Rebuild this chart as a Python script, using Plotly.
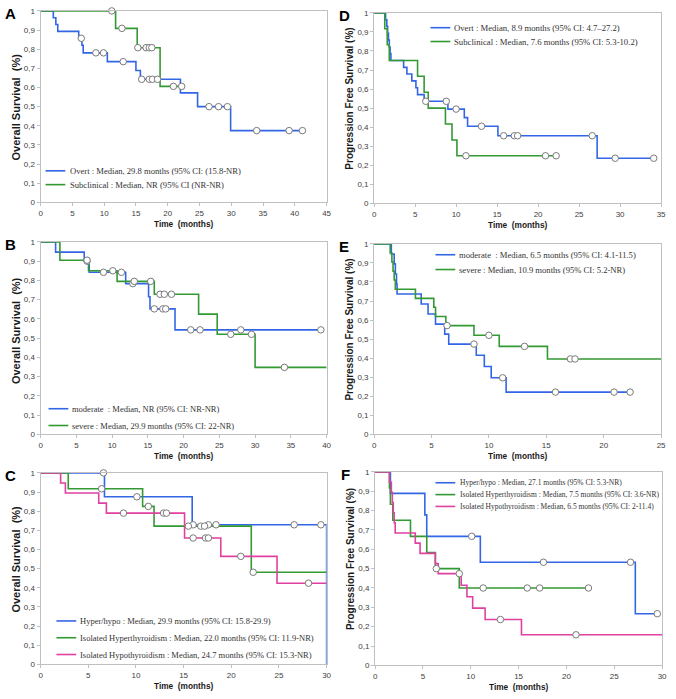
import plotly.graph_objects as go

W, H = 676, 699

BLUE = "#3366e6"
GREEN = "#339933"
MAGENTA = "#e040a0"

# ---------------- data ----------------
# Panel A - Overall survival, Overt vs Subclinical
A_overt_t = [2.0, 2.4, 2.7, 6.0, 6.5, 6.7, 10.5, 15.0, 15.7, 22.0, 24.7, 29.9]
A_overt_s = [0.964, 0.929, 0.893, 0.857, 0.821, 0.781, 0.735, 0.689, 0.643, 0.572, 0.500, 0.375]
A_overt_c = [6.4, 8.7, 9.9, 13.0, 15.9, 17.1, 17.6, 18.4, 26.5, 28.0, 29.4, 34.0, 39.1, 41.2]
A_overt_end = 41.2
A_sub_t = [11.8, 15.2, 18.8]
A_sub_s = [0.909, 0.808, 0.606]
A_sub_c = [11.2, 12.8, 15.3, 16.6, 17.1, 17.5, 20.9, 22.2]
A_sub_end = 22.2

# Panel D - PFS, Overt vs Subclinical
D_overt_t = [1.4, 1.55, 1.65, 1.75, 1.85, 1.95, 2.05, 3.6, 4.0, 4.6, 5.1, 5.3, 6.1, 9.0, 11.0, 11.4, 15.1, 27.2]
D_overt_s = [0.964, 0.929, 0.893, 0.857, 0.821, 0.786, 0.750, 0.714, 0.679, 0.643, 0.607, 0.571, 0.536, 0.495, 0.450, 0.405, 0.355, 0.237]
D_overt_c = [6.3, 8.8, 10.0, 13.1, 15.8, 17.1, 17.5, 26.6, 29.4, 34.1]
D_overt_end = 34.1
D_sub_t = [1.3, 1.6, 1.85, 5.3, 6.1, 6.6, 8.7, 9.5, 10.1]
D_sub_s = [0.917, 0.833, 0.750, 0.667, 0.583, 0.500, 0.417, 0.333, 0.250]
D_sub_c = [11.2, 20.9, 22.2]
D_sub_end = 22.2

# Panel B - Overall survival, moderate vs severe
B_mod_t = [2.1, 6.1, 6.8, 11.9, 15.1, 15.3, 18.8]
B_mod_s = [0.947, 0.900, 0.842, 0.783, 0.715, 0.652, 0.543]
B_mod_c = [6.5, 8.8, 11.3, 12.9, 15.9, 17.1, 17.5, 21.0, 22.3, 28.0, 39.2]
B_mod_end = 39.2
B_sev_t = [2.7, 6.7, 10.7, 15.9, 22.1, 24.7, 30.0]
B_sev_s = [0.905, 0.850, 0.795, 0.728, 0.625, 0.520, 0.348]
B_sev_c = [6.5, 10.1, 13.1, 15.4, 16.7, 17.3, 18.3, 26.6, 29.5, 34.1]
B_sev_end = 40.0

# Panel E - PFS, moderate vs severe
E_mod_t = [1.5, 1.75, 1.85, 1.95, 2.0, 4.1, 4.7, 5.35, 6.15, 6.5, 8.9, 9.6, 10.2, 11.5]
E_mod_s = [0.947, 0.895, 0.842, 0.789, 0.737, 0.684, 0.632, 0.579, 0.526, 0.474, 0.415, 0.356, 0.297, 0.222]
E_mod_c = [8.7, 11.2, 15.8, 20.9, 22.3]
E_mod_end = 22.3
E_sev_t = [1.4, 1.55, 1.65, 1.75, 1.85, 3.6, 5.2, 5.35, 6.25, 8.7, 10.9, 15.1]
E_sev_s = [0.952, 0.905, 0.857, 0.810, 0.762, 0.714, 0.667, 0.619, 0.571, 0.520, 0.462, 0.396]
E_sev_c = [6.35, 10.0, 13.1, 17.1, 17.5]
E_sev_end = 25.0

# Panel C - Overall survival by thyroid dysfunction type
C_hh_t = [6.7, 15.9, 30.0]
C_hh_s = [0.875, 0.729, 0.0]
C_hh_c = [6.6, 10.1, 16.0, 17.6, 18.4, 26.6, 29.4]
C_hh_end = 30.0
C_hyper_t = [2.9, 10.7, 11.9, 22.1]
C_hyper_s = [0.917, 0.825, 0.722, 0.481]
C_hyper_c = [6.4, 11.3, 15.5, 16.8, 17.2, 22.3]
C_hyper_end = 30.0
C_hypo_t = [2.1, 2.6, 6.1, 6.9, 15.1, 18.9, 24.8]
C_hypo_s = [0.947, 0.895, 0.842, 0.790, 0.660, 0.564, 0.424]
C_hypo_c = [8.7, 12.9, 13.2, 16.0, 17.3, 17.6, 21.0, 28.1]
C_hypo_end = 30.0

# Panel F - PFS by thyroid dysfunction type
F_hh_t = [1.6, 5.2, 5.4, 11.0, 27.2]
F_hh_s = [0.889, 0.778, 0.667, 0.533, 0.267]
F_hh_c = [10.1, 17.6, 26.7, 29.5]
F_hh_end = 29.5
F_hyper_t = [1.5, 1.6, 1.85, 3.7, 5.4, 6.3, 8.8]
F_hyper_s = [0.917, 0.833, 0.750, 0.667, 0.583, 0.500, 0.400]
F_hyper_c = [6.4, 11.3, 15.9, 17.2, 22.3]
F_hyper_end = 22.3
F_hypo_t = [1.5, 1.7, 1.8, 1.9, 2.0, 2.1, 4.2, 4.7, 6.3, 6.6, 9.0, 9.6, 10.2, 11.5, 15.3]
F_hypo_s = [0.947, 0.895, 0.842, 0.789, 0.737, 0.684, 0.632, 0.579, 0.526, 0.474, 0.414, 0.355, 0.296, 0.237, 0.158]
F_hypo_c = [8.8, 13.1, 21.0]
F_hypo_end = 30.0

# tick labels
y_tickvals = [0, 0.1, 0.2, 0.3, 0.4, 0.5, 0.6, 0.7, 0.8, 0.9, 1.0]
y_ticktext = ["0", "0,1", "0,2", "0,3", "0,4", "0,5", "0,6", "0,7", "0,8", "0,9", "1"]

# legend labels
A_labels = ["Overt : Median, 29.8 months (95% CI: (15.8-NR)", "Subclinical : Median, NR (95% CI (NR-NR)"]
D_labels = ["Overt : Median, 8.9 months (95% CI: 4.7–27.2)", "Subclinical : Median, 7.6 months (95% CI: 5.3-10.2)"]
B_labels = ["moderate  : Median, NR (95% CI: NR-NR)", "severe : Median, 29.9 months (95% CI: 22-NR)"]
E_labels = ["moderate  : Median, 6.5 months (95% CI: 4.1-11.5)", "severe : Median, 10.9 months (95% CI: 5.2-NR)"]
C_labels = ["Hyper/hypo : Median, 29.9 months (95% CI: 15.8-29.9)",
            "Isolated Hyperthyroidism : Median, 22.0 months (95% CI: 11.9-NR)",
            "Isolated Hypothyroidism : Median, 24.7 months (95% CI: 15.3-NR)"]
F_labels = ["Hyper/hypo : Median, 27.1 months (95% CI: 5.3-NR)",
            "Isolated Hyperthyroidism : Median, 7.5 months (95% CI: 3.6-NR)",
            "Isolated Hypothyroidism : Median, 6.5 months (95% CI: 2-11.4)"]

OS_TITLE = "Overall Survival  (%)"
PFS_TITLE = "Progression Free Survival (%)"
X_TITLE = "Time  (months)"

# ---------------- layout geometry (pixels) ----------------
def px_x(x):
    return x / W

def px_y(y):
    return 1 - y / H

panels = [
    dict(letter="A", box=(39, 328, 7, 201), xmax=45, ytitle=OS_TITLE, yts=11, yshift=0,
         curves=[(A_overt_t, A_overt_s, A_overt_c, A_overt_end, BLUE),
                 (A_sub_t, A_sub_s, A_sub_c, A_sub_end, GREEN)],
         labels=A_labels, leg=(44, 64, 67, 169, 14), fs=8.6),
    dict(letter="D", box=(376, 666, 9, 202), xmax=35, ytitle=PFS_TITLE, yts=10, yshift=-10,
         curves=[(D_overt_t, D_overt_s, D_overt_c, D_overt_end, BLUE),
                 (D_sub_t, D_sub_s, D_sub_c, D_sub_end, GREEN)],
         labels=D_labels, leg=(433, 453, 455, 24, 14), fs=8.7),
    dict(letter="B", box=(39, 328, 241, 436), xmax=40, ytitle=OS_TITLE, yts=11, yshift=-8,
         curves=[(B_mod_t, B_mod_s, B_mod_c, B_mod_end, BLUE),
                 (B_sev_t, B_sev_s, B_sev_c, B_sev_end, GREEN)],
         labels=B_labels, leg=(47, 67, 69, 410, 17), fs=8.5),
    dict(letter="E", box=(376, 666, 243, 436), xmax=25, ytitle=PFS_TITLE, yts=10, yshift=-10,
         curves=[(E_mod_t, E_mod_s, E_mod_c, E_mod_end, BLUE),
                 (E_sev_t, E_sev_s, E_sev_c, E_sev_end, GREEN)],
         labels=E_labels, leg=(438, 458, 460, 254, 15), fs=8.6),
    dict(letter="C", box=(39, 328, 475, 669), xmax=30, ytitle=OS_TITLE, yts=11, yshift=-10,
         curves=[(C_hh_t, C_hh_s, C_hh_c, C_hh_end, BLUE),
                 (C_hyper_t, C_hyper_s, C_hyper_c, C_hyper_end, GREEN),
                 (C_hypo_t, C_hypo_s, C_hypo_c, C_hypo_end, MAGENTA)],
         labels=C_labels, leg=(55, 75, 77, 625, 17), fs=8.5),
    dict(letter="F", box=(377, 667, 474, 670), xmax=30, ytitle=PFS_TITLE, yts=10, yshift=-10,
         curves=[(F_hh_t, F_hh_s, F_hh_c, F_hh_end, BLUE),
                 (F_hyper_t, F_hyper_s, F_hyper_c, F_hyper_end, GREEN),
                 (F_hypo_t, F_hypo_s, F_hypo_c, F_hypo_end, MAGENTA)],
         labels=F_labels, leg=(438, 458, 461, 485, 12), fs=7.5),
]

fig = go.Figure()
layout = dict(width=W, height=H, margin=dict(l=0, r=0, t=0, b=0),
              paper_bgcolor="white", plot_bgcolor="white", showlegend=False)
shapes = []
annotations = []

SANS = "Liberation Sans"
SERIF = "Liberation Serif"
AXCOL = "#c0c0c0"


def km_steps(times, surv, end):
    xs = [0.0] + list(times)
    ys = [1.0] + list(surv)
    if end > xs[-1]:
        xs.append(end)
        ys.append(ys[-1])
    return xs, ys


def km_at(times, surv, t):
    s = 1.0
    for ti, si in zip(times, surv):
        if ti <= t:
            s = si
    return s


for i, p in enumerate(panels):
    n = "" if i == 0 else str(i + 1)
    xa, ya = "x" + n, "y" + n
    x0, x1, yt, yb = p["box"]
    layout["xaxis" + n] = dict(
        domain=[px_x(x0), px_x(x1)], anchor=ya, range=[0, p["xmax"]],
        dtick=5, tick0=0, showgrid=False, zeroline=False,
        showline=True, linecolor=AXCOL, linewidth=1, mirror=True,
        ticks="outside", ticklen=3, tickcolor=AXCOL,
        tickfont=dict(family=SANS, size=8, color="#404040"))
    layout["yaxis" + n] = dict(
        domain=[px_y(yb), px_y(yt)], anchor=xa, range=[0, 1],
        tickvals=y_tickvals, ticktext=y_ticktext, showgrid=False, zeroline=False,
        showline=True, linecolor=AXCOL, linewidth=1, mirror=True,
        ticks="outside", ticklen=3, tickcolor=AXCOL,
        tickfont=dict(family=SANS, size=8, color="#404040"))

    for (t, s, c, end, col) in p["curves"]:
        xs, ys = km_steps(t, s, end)
        fig.add_trace(go.Scatter(x=xs, y=ys, mode="lines", line=dict(color=col, width=1.6, shape="hv"),
                                 xaxis=xa, yaxis=ya, hoverinfo="skip", cliponaxis=False))
    for (t, s, c, end, col) in p["curves"]:
        cy = [km_at(t, s, ct) for ct in c]
        fig.add_trace(go.Scatter(x=c, y=cy, mode="markers",
                                 marker=dict(symbol="circle", size=6.5, color="white",
                                             line=dict(color="#7a7a7a", width=1)),
                                 xaxis=xa, yaxis=ya, hoverinfo="skip", cliponaxis=False))

    # legend drawn inside plot
    lx0, lx1, tx, ly, dy = p["leg"]
    for k, lab in enumerate(p["labels"]):
        col = p["curves"][k][4]
        yy = ly + k * dy
        shapes.append(dict(type="line", xref="paper", yref="paper",
                           x0=px_x(lx0), x1=px_x(lx1), y0=px_y(yy), y1=px_y(yy),
                           line=dict(color=col, width=1.6)))
        annotations.append(dict(text=lab, xref="paper", yref="paper", x=px_x(tx), y=px_y(yy),
                                xanchor="left", yanchor="middle", showarrow=False,
                                font=dict(family=SERIF, size=p["fs"], color="#333333")))

    # panel letter
    annotations.append(dict(text="<b>%s</b>" % p["letter"], xref="paper", yref="paper",
                            x=px_x(x0 - 30), y=px_y(yt + 3), xanchor="center", yanchor="middle",
                            showarrow=False, font=dict(family=SANS, size=15, color="black")))
    # y title
    annotations.append(dict(text="<b>%s</b>" % p["ytitle"], xref="paper", yref="paper",
                            x=px_x(x0 - 25), y=px_y((yt + yb) / 2 + p["yshift"]),
                            xanchor="center", yanchor="middle",
                            textangle=-90, showarrow=False,
                            font=dict(family=SANS, size=p["yts"], color="#1a1a1a")))
    # x title
    annotations.append(dict(text="<b>%s</b>" % X_TITLE, xref="paper", yref="paper",
                            x=px_x((x0 + x1) / 2), y=px_y(yb + 22), xanchor="center", yanchor="middle",
                            showarrow=False, font=dict(family=SANS, size=8.3, color="#1a1a1a")))

layout["shapes"] = shapes
layout["annotations"] = annotations
fig.update_layout(**layout)
fig.write_html("out.html", config={"displayModeBar": False},
               post_script="document.body.style.margin='0';document.body.style.overflow='hidden';")
